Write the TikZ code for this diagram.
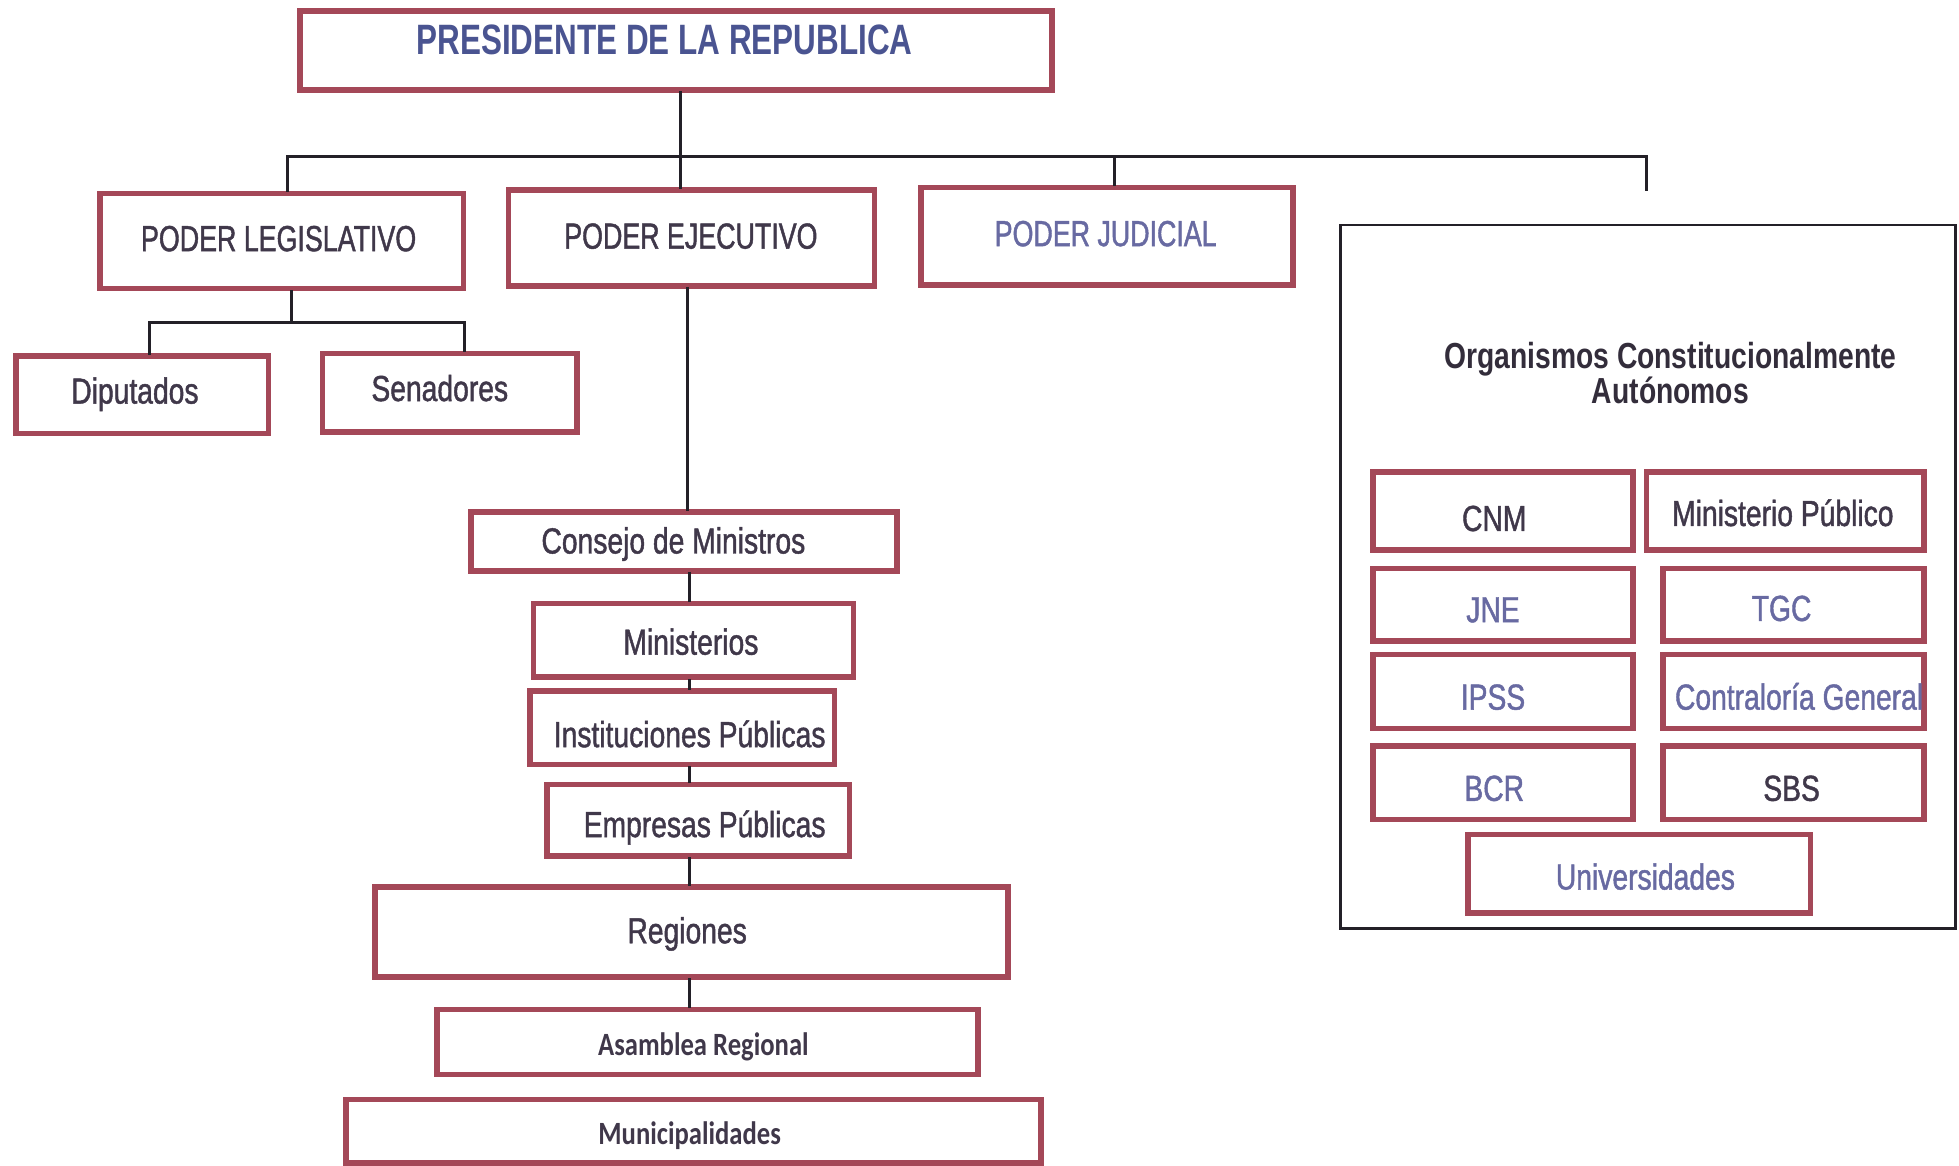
\documentclass[tikz,border=0pt]{standalone}
\usepackage{fontspec}
\setmainfont{Liberation Sans}
\newfontfamily\narf{Liberation Sans}[FakeStretch=0.78, FakeBold=1.2]
\newfontfamily\narb{Liberation Sans Bold}[FakeStretch=0.78]
\newfontfamily\narcaps{Liberation Sans}[FakeStretch=0.74, FakeBold=1.2]
\newfontfamily\narcapsb{Liberation Sans Bold}[FakeStretch=0.74]
\newfontfamily\carl{Carlito Bold}[FakeStretch=0.82]
\usetikzlibrary{fit}
\definecolor{boxred}{RGB}{164,72,88}
\definecolor{txtdark}{RGB}{64,56,74}
\definecolor{txtblue}{RGB}{104,106,162}
\definecolor{presblue}{RGB}{74,84,145}
\definecolor{linek}{RGB}{35,32,40}
\tikzset{
  box/.style={draw=boxred, line width=4.5pt, inner sep=0pt},
  ocabox/.style={draw=linek, line width=2pt, inner sep=0pt},
  lbl/.style={anchor=base, inner sep=0pt, text=txtdark, font=\narf\fontsize{29}{32}\selectfont},
  capslbl/.style={lbl, font=\narcaps\fontsize{29}{32}\selectfont},
  preslbl/.style={lbl, text=presblue, font=\narcapsb\fontsize{34}{36}\selectfont},
  titlelbl/.style={lbl, text=txtdark!80!black, font=\narb\fontsize{29}{32}\selectfont},
  carllbl/.style={lbl, font=\carl\fontsize{26}{28}\selectfont},
  bluetxt/.style={text=txtblue},
  conn/.style={draw=linek, line width=2.3pt, line cap=rect}
}
\begin{document}
\begin{tikzpicture}[x=1pt, y=-1pt]
\fill[white] (0,0) rectangle (1568,933);
\useasboundingbox (0,0) rectangle (1568,933);

% boxes
\node[box, fit={(240,9)(842,72)}] (pres) {};
\node[box, fit={(80,155)(371,231)}] (leg) {};
\node[box, fit={(407,152)(700,229)}] (eje) {};
\node[box, fit={(737,150)(1035,228)}] (jud) {};
\node[box, fit={(13,285)(215,347)}] (dip) {};
\node[box, fit={(258,283)(462,346)}] (sen) {};
\node[box, fit={(377,410)(718,457)}] (con) {};
\node[box, fit={(427,483)(683,542)}] (mini) {};
\node[box, fit={(424,553)(668,612)}] (ins) {};
\node[box, fit={(438,628)(680,685)}] (emp) {};
\node[box, fit={(300,710)(807,782)}] (reg) {};
\node[box, fit={(350,808)(783,860)}] (asa) {};
\node[box, fit={(277,880)(833,931)}] (mun) {};
\node[ocabox, fit={(1073,180)(1565,743)}] (oca) {};
\node[box, fit={(1099,378)(1307,440)}] (cnm) {};
\node[box, fit={(1318,378)(1540,440)}] (mp) {};
\node[box, fit={(1099,455)(1307,513)}] (jne) {};
\node[box, fit={(1331,455)(1540,513)}] (tgc) {};
\node[box, fit={(1099,524)(1307,583)}] (ipss) {};
\node[box, fit={(1331,524)(1540,583)}] (cg) {};
\node[box, fit={(1099,597)(1307,656)}] (bcr) {};
\node[box, fit={(1331,597)(1540,656)}] (sbs) {};
\node[box, fit={(1175,668)(1449,731)}] (univ) {};

% labels
\node[preslbl] (tpres) at (532,44) {PRESIDENTE DE LA REPUBLICA};
\node[capslbl] (tleg) at (223,201) {PODER LEGISLATIVO};
\node[capslbl] (teje) at (553,199) {PODER EJECUTIVO};
\node[capslbl, bluetxt] (tjud) at (885,197) {PODER JUDICIAL};
\node[lbl] (tdip) at (108,323) {Diputados};
\node[lbl] (tsen) at (352,321) {Senadores};
\node[lbl] (tcon) at (539,443) {Consejo de Ministros};
\node[lbl] (tmin) at (553,524) {Ministerios};
\node[lbl] (tins) at (552,598) {Instituciones Públicas};
\node[lbl] (temp) at (564,670) {Empresas Públicas};
\node[lbl] (treg) at (550,755) {Regiones};
\node[carllbl] (tasa) at (563,845) {Asamblea Regional};
\node[carllbl] (tmun) at (552,916) {Municipalidades};
\node[titlelbl] (toca1) at (1337,295) {Organismos Constitucionalmente};
\node[titlelbl] (toca2) at (1337,323) {Autónomos};
\node[lbl] (tcnm) at (1196,425) {CNM};
\node[lbl] (tmp) at (1427,421) {Ministerio Público};
\node[lbl, bluetxt] (tjne) at (1195,498) {JNE};
\node[lbl, bluetxt] (ttgc) at (1426,497) {TGC};
\node[lbl, bluetxt] (tipss) at (1195,568) {IPSS};
\node[lbl, bluetxt] (tcg) at (1440,568) {Contraloría General};
\node[lbl, bluetxt] (tbcr) at (1196,641) {BCR};
\node[lbl] (tsbs) at (1434,641) {SBS};
\node[lbl, bluetxt] (tuniv) at (1317,712) {Universidades};

% connectors
\coordinate (busL) at (230,125);
\coordinate (busR) at (1318,125);
\coordinate (trunk) at (545,125);
\coordinate (jdrop) at (892,125);
\coordinate (rend) at (1318,152);
\draw[conn] (pres.south -| trunk) -- (trunk);
\draw[conn] (leg.north -| busL) -- (busL) -- (busR) -- (rend);
\draw[conn] (trunk) -- (trunk |- eje.north);
\draw[conn] (jdrop) -- (jdrop |- jud.north);

\coordinate (lj) at (233,258);
\coordinate (ljL) at (120,258);
\coordinate (ljR) at (372,258);
\draw[conn] (leg.south -| lj) -- (lj);
\draw[conn] (dip.north -| ljL) -- (ljL) -- (ljR) -- (sen.north -| ljR);

\coordinate (ex) at (550,0);
\coordinate (cx) at (552,0);
\draw[conn] (eje.south -| ex) -- (con.north -| ex);
\draw[conn] (con.south -| cx) -- (mini.north -| cx);
\draw[conn] (mini.south -| cx) -- (ins.north -| cx);
\draw[conn] (ins.south -| cx) -- (emp.north -| cx);
\draw[conn] (emp.south -| cx) -- (reg.north -| cx);
\draw[conn] (reg.south -| cx) -- (asa.north -| cx);
\end{tikzpicture}
\end{document}
